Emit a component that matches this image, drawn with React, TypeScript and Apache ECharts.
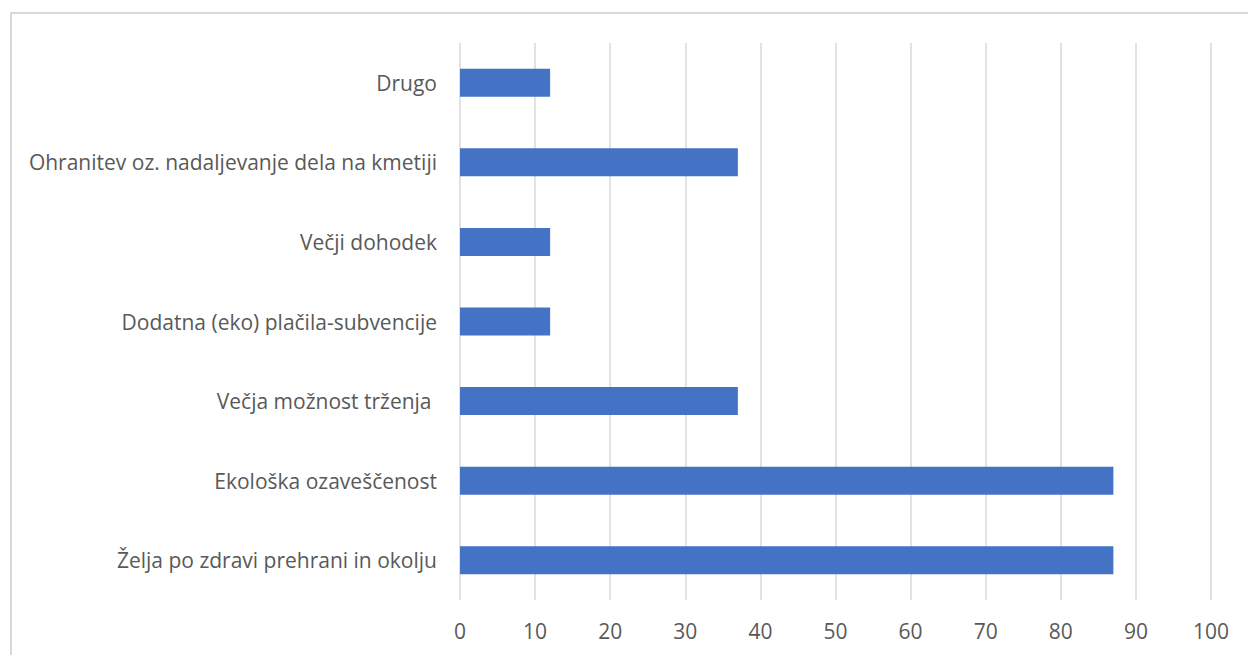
import React, { useEffect, useRef } from "react";
import * as echarts from "echarts";

// Reasons, listed top to bottom
const categories = [
  "Drugo",
  "Ohranitev oz. nadaljevanje dela na kmetiji",
  "Večji dohodek",
  "Dodatna (eko) plačila-subvencije",
  "Večja možnost trženja ",
  "Ekološka ozaveščenost",
  "Želja po zdravi prehrani in okolju",
];
const values = [12, 37, 12, 12, 37, 87, 87];

const xMin = 0;
const xMax = 100;
const xStep = 10;

export default function App() {
  const ref = useRef<HTMLDivElement>(null);

  useEffect(() => {
    document.body.style.margin = "0";
    if (!ref.current) return;
    const chart = echarts.init(ref.current, null, { renderer: "svg" });
    chart.setOption({
      animation: false,
      backgroundColor: "#ffffff",
      textStyle: { fontFamily: "Open Sans" },
      graphic: [
        {
          type: "rect",
          shape: { x: 11, y: 13, width: 1260, height: 680 },
          style: { fill: "none", stroke: "#d9d9d9", lineWidth: 2 },
          silent: true,
          z: -1,
        },
      ],
      grid: { left: 460, right: 37, top: 43, bottom: 55, containLabel: false },
      xAxis: {
        type: "value",
        min: xMin,
        max: xMax,
        interval: xStep,
        axisLine: { show: false },
        axisTick: { show: false },
        axisLabel: { color: "#595959", fontSize: 21, margin: 20, fontFamily: "Open Sans" },
        splitLine: { show: true, lineStyle: { color: "#d9d9d9", width: 1.5 } },
      },
      yAxis: {
        type: "category",
        data: categories,
        inverse: true,
        axisLine: { show: false },
        axisTick: { show: false },
        axisLabel: { color: "#595959", fontSize: 21, margin: 23, fontFamily: "Open Sans" },
        splitLine: { show: false },
      },
      series: [
        {
          type: "bar",
          data: values,
          barWidth: 28,
          itemStyle: { color: "#4472c4" },
        },
      ],
    });
    return () => chart.dispose();
  }, []);

  return <div ref={ref} style={{ width: 1248, height: 655 }} />;
}
